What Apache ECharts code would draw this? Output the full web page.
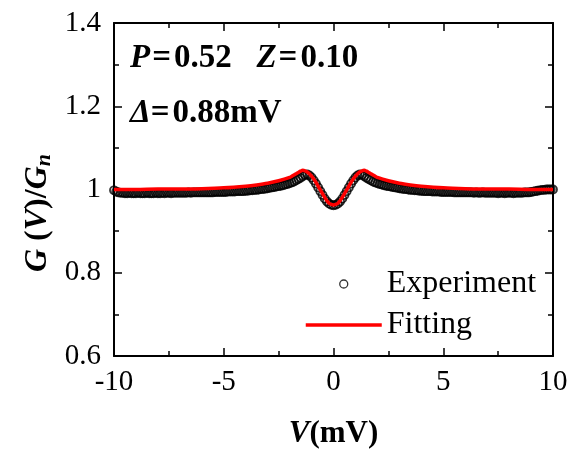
<!DOCTYPE html>
<html>
<head>
<meta charset="utf-8">
<script src="https://cdn.jsdelivr.net/npm/echarts@6/dist/echarts.min.js"></script>
<style>
  html, body { margin: 0; padding: 0; background: #fff; }
  #main { width: 574px; height: 450px; }
</style>
</head>
<body>
<div id="main"></div>
<script>
// x tick values and y tick values
var xTicks = [-10, -5, 0, 5, 10];
var yTicks = [0.6, 0.8, 1.0, 1.2, 1.4];

// fitting curve
var fitV = [-10, -9, -8, -7, -6, -5, -4, -3.5, -3, -2.5,
  -2.0, -1.9, -1.8, -1.7, -1.6, -1.5, -1.4, -1.3, -1.2, -1.1,
  -1.0, -0.9, -0.8, -0.7, -0.6, -0.5, -0.4, -0.3, -0.2, -0.1, 0,
  0.1, 0.2, 0.3, 0.4, 0.5, 0.6, 0.7, 0.8, 0.9, 1.0,
  1.1, 1.2, 1.3, 1.4, 1.5, 1.6, 1.7, 1.8, 1.9, 2.0,
  2.5, 3, 3.5, 4, 5, 6, 7, 8, 9, 10];
var fitG = [1.000, 1.000, 1.001, 1.001, 1.002, 1.004, 1.008, 1.011, 1.015, 1.021,
  1.029, 1.032, 1.035, 1.038, 1.041, 1.044, 1.046, 1.045, 1.042, 1.038,
  1.032, 1.025, 1.017, 1.008, 0.999, 0.990, 0.981, 0.973, 0.967, 0.964, 0.963,
  0.964, 0.967, 0.973, 0.981, 0.990, 0.999, 1.008, 1.017, 1.025, 1.032,
  1.038, 1.042, 1.045, 1.046, 1.044, 1.041, 1.038, 1.035, 1.032, 1.029,
  1.021, 1.015, 1.011, 1.008, 1.004, 1.002, 1.001, 1.001, 1.000, 1.000];

// experiment, sampled every 0.1 mV from -10 to 10
var expStart = -10;
var expStep = 0.1;
var expG = [
  0.998, 0.995, 0.993, 0.992, 0.992, 0.991, 0.991, 0.992, 0.991, 0.991,
  0.991, 0.992, 0.991, 0.991, 0.991, 0.992, 0.991, 0.991, 0.991, 0.992,
  0.991, 0.991, 0.992, 0.991, 0.992, 0.992, 0.991, 0.992, 0.992, 0.992,
  0.992, 0.992, 0.992, 0.992, 0.993, 0.992, 0.993, 0.993, 0.993, 0.993,
  0.993, 0.993, 0.993, 0.993, 0.993, 0.993, 0.994, 0.994, 0.994, 0.994,
  0.994, 0.994, 0.995, 0.995, 0.995, 0.995, 0.996, 0.996, 0.996, 0.996,
  0.997, 0.997, 0.998, 0.998, 0.999, 0.999, 1.000, 1.001, 1.001, 1.002,
  1.003, 1.004, 1.005, 1.006, 1.007, 1.008, 1.009, 1.010, 1.012, 1.013,
  1.015, 1.017, 1.019, 1.022, 1.025, 1.028, 1.032, 1.035, 1.036, 1.034,
  1.029, 1.022, 1.014, 1.005, 0.996, 0.987, 0.978, 0.971, 0.966, 0.963,
  0.962,
  0.963, 0.966, 0.971, 0.978, 0.987, 0.996, 1.005, 1.014, 1.022, 1.029,
  1.034, 1.036, 1.035, 1.032, 1.028, 1.025, 1.022, 1.019, 1.017, 1.015,
  1.013, 1.012, 1.010, 1.009, 1.008, 1.007, 1.006, 1.005, 1.004, 1.003,
  1.002, 1.001, 1.001, 1.000, 0.999, 0.999, 0.998, 0.998, 0.997, 0.997,
  0.996, 0.996, 0.996, 0.996, 0.995, 0.995, 0.995, 0.995, 0.994, 0.994,
  0.994, 0.994, 0.994, 0.994, 0.993, 0.993, 0.993, 0.993, 0.993, 0.993,
  0.993, 0.993, 0.993, 0.992, 0.993, 0.992, 0.992, 0.993, 0.992, 0.992,
  0.992, 0.992, 0.992, 0.992, 0.991, 0.992, 0.992, 0.991, 0.992, 0.992,
  0.992, 0.991, 0.992, 0.992, 0.992, 0.992, 0.993, 0.993, 0.993, 0.994,
  0.995, 0.996, 0.997, 0.998, 0.999, 0.999, 1.000, 1.000, 1.000, 1.000
];

var serif = '"Liberation Serif", "DejaVu Serif", serif';

var expData = expG.map(function (g, i) {
  return [+(expStart + i * expStep).toFixed(2), g];
});
var fitData = fitV.map(function (v, i) { return [v, fitG[i]]; });

// fresh style objects for every axis
function axisLine() {
  return { show: true, onZero: false, lineStyle: { color: '#000', width: 2 } };
}
function axisTick() {
  return { show: true, inside: true, length: 8, lineStyle: { color: '#000', width: 1.5 } };
}
function minorTick() {
  return { show: true, splitNumber: 2, length: 5, lineStyle: { color: '#000', width: 1.5 } };
}
function txt(size, italic) {
  return { fontFamily: serif, fontSize: size, fontWeight: 'bold',
    fontStyle: italic ? 'italic' : 'normal', fill: '#000', color: '#000' };
}
function plotBox() {
  return { left: 114, right: 21, top: 23, bottom: 94,
    containLabel: false, outerBoundsMode: 'none' };
}

var myChart = echarts.init(document.getElementById('main'));
myChart.setOption({
  backgroundColor: '#fff',
  animation: false,
  // second grid on the same spot only carries the right-hand axis
  grid: [plotBox(), plotBox()],
  legend: {
    orient: 'vertical',
    left: 299,
    top: 263,
    itemWidth: 76,
    itemHeight: 8,
    itemGap: 9,
    textStyle: { fontFamily: serif, fontSize: 32, color: '#000', lineHeight: 32 },
    data: [
      { name: 'Experiment', icon: 'circle',
        itemStyle: { color: '#fff', borderColor: '#000', borderWidth: 1.3 } },
      { name: 'Fitting', itemStyle: { opacity: 0 },
        lineStyle: { color: '#ff0000', width: 3.5 } }
    ]
  },
  xAxis: [{
    type: 'value', min: xTicks[0], max: xTicks[xTicks.length - 1], interval: 5,
    axisLine: axisLine(), axisTick: axisTick(), minorTick: minorTick(),
    splitLine: { show: false },
    axisLabel: { fontFamily: serif, fontSize: 29, color: '#000', margin: 12 },
    name: '{i|V}{b|(mV)}', nameLocation: 'middle', nameGap: 62,
    nameTextStyle: { rich: { i: txt(31, true), b: txt(31, false) } }
  }, {
    type: 'value', position: 'top', min: xTicks[0], max: xTicks[xTicks.length - 1], interval: 5,
    axisLine: axisLine(), axisTick: axisTick(), minorTick: minorTick(),
    splitLine: { show: false }, axisLabel: { show: false }
  }, {
    gridIndex: 1, type: 'value', min: xTicks[0], max: xTicks[xTicks.length - 1], show: false
  }],
  yAxis: [{
    type: 'value', min: yTicks[0], max: yTicks[yTicks.length - 1], interval: 0.2,
    axisLine: axisLine(), axisTick: axisTick(), minorTick: minorTick(),
    splitLine: { show: false },
    axisLabel: { fontFamily: serif, fontSize: 29, color: '#000', margin: 13 }
  }, {
    gridIndex: 1, type: 'value', position: 'right',
    min: yTicks[0], max: yTicks[yTicks.length - 1], interval: 0.2,
    axisLine: axisLine(), axisTick: axisTick(), minorTick: minorTick(),
    splitLine: { show: false }, axisLabel: { show: false }
  }],
  graphic: [{
    type: 'text', left: 130, top: 42,
    style: {
      text: '{i|P}{e|=}{b|0.52}{i|   Z}{e|=}{b|0.10}',
      rich: {
        i: txt(33, true), b: txt(33, false),
        e: Object.assign(txt(33, false), { padding: [0, 3, 0, 2] })
      }
    }
  }, {
    type: 'text', left: 130, top: 97,
    style: {
      text: '{i|Δ}{e|=}{b|0.88mV}',
      rich: {
        i: txt(33, true), b: txt(33, false),
        e: Object.assign(txt(33, false), { padding: [0, 3, 0, 0] })
      }
    }
  }, {
    type: 'text', x: 38, y: 213, rotation: Math.PI / 2,
    style: {
      text: '{i|G}{b| (}{i|V}{b|)/}{i|G}{s|n}',
      align: 'center', verticalAlign: 'middle',
      rich: {
        i: txt(32, true), b: txt(32, false),
        s: Object.assign(txt(22, true), { verticalAlign: 'bottom', padding: [12, 0, 0, 0] })
      }
    }
  }],
  series: [{
    name: 'Experiment',
    type: 'scatter',
    xAxisIndex: 0, yAxisIndex: 0,
    data: expData,
    symbol: 'circle',
    symbolSize: 8,
    itemStyle: { color: 'rgba(255,255,255,0)', borderColor: '#000', borderWidth: 1.8 },
    z: 2
  }, {
    name: 'Fitting',
    type: 'line',
    xAxisIndex: 0, yAxisIndex: 0,
    data: fitData,
    smooth: 0.3,
    symbol: 'none',
    showSymbol: false,
    lineStyle: { color: '#ff0000', width: 3.5 },
    itemStyle: { color: '#ff0000' },
    z: 3
  }]
});
</script>
</body>
</html>
